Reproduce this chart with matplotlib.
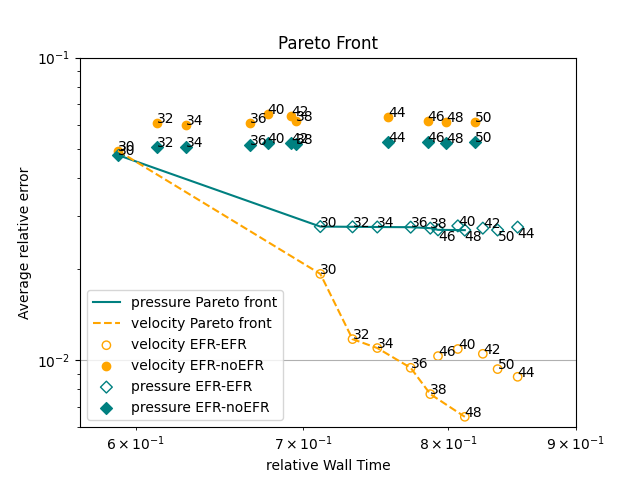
import matplotlib
matplotlib.use("Agg")
from matplotlib import pyplot as plt

# configs (labels) in the order the points were read
configs = [30, 32, 34, 36, 40, 42, 38, 44, 46, 48, 50]
wall_noefr = [0.5903, 0.6118, 0.6285, 0.6663, 0.6776, 0.6924, 0.6953,
              0.7572, 0.7850, 0.7987, 0.8197]
vel_noefr = [0.04920, 0.06077, 0.05999, 0.06077, 0.06525, 0.06426, 0.06152,
             0.06363, 0.06171, 0.06124, 0.06124]
pres_noefr = [0.04761, 0.05073, 0.05069, 0.05151, 0.05218, 0.05218, 0.05179,
              0.05242, 0.05242, 0.05218, 0.05258]

configs_efr = [30, 32, 34, 36, 38, 46, 40, 48, 42, 50, 44]
wall_efr = [0.7112, 0.7326, 0.7495, 0.7729, 0.7870, 0.7926, 0.8072,
            0.8124, 0.8260, 0.8373, 0.8529]
vel_efr = [0.01927, 0.01173, 0.01096, 0.009430, 0.007718, 0.01031, 0.01088,
           0.006494, 0.01049, 0.009337, 0.008805]
pres_efr = [0.02763, 0.02758, 0.02754, 0.02750, 0.02730, 0.02695, 0.02778,
            0.02689, 0.02730, 0.02692, 0.02751]

# labels written under the marker for pressure EFR-EFR
below = [46, 48, 50, 44]


def pareto(xs, ys):
    pts = sorted(zip(xs, ys))
    front_x, front_y = [], []
    best = float("inf")
    for x, y in pts:
        if y < best:
            front_x.append(x)
            front_y.append(y)
            best = y
    return front_x, front_y


fig, ax = plt.subplots(figsize=(6.4, 4.8), dpi=100)

px, py = pareto(wall_noefr + wall_efr, pres_noefr + pres_efr)
vx, vy = pareto(wall_noefr + wall_efr, vel_noefr + vel_efr)
ax.plot(px, py, '-', color='teal', label='pressure Pareto front')
ax.plot(vx, vy, '--', color='orange', label='velocity Pareto front')

ax.scatter(wall_efr, vel_efr, marker='o', facecolors='none',
           edgecolors='orange', label='velocity EFR-EFR')
ax.scatter(wall_noefr, vel_noefr, marker='o', color='orange',
           label='velocity EFR-noEFR')
ax.scatter(wall_efr, pres_efr, marker='D', facecolors='none',
           edgecolors='teal', label='pressure EFR-EFR')
ax.scatter(wall_noefr, pres_noefr, marker='D', color='teal',
           label='pressure EFR-noEFR')

for n, x, y in zip(configs, wall_noefr, vel_noefr):
    ax.text(x, y, str(n))
for n, x, y in zip(configs, wall_noefr, pres_noefr):
    ax.text(x, y, str(n))
for n, x, y in zip(configs_efr, wall_efr, vel_efr):
    ax.text(x, y, str(n))
for n, x, y in zip(configs_efr, wall_efr, pres_efr):
    if n in below:
        ax.text(x, y, str(n), va='top')
    else:
        ax.text(x, y, str(n))

ax.set_xscale('log')
ax.set_yscale('log')
ax.set_xlim(0.57, 0.9)
ax.set_ylim(0.006, 0.1)
ax.grid()
ax.set_title('Pareto Front')
ax.set_xlabel('relative Wall Time')
ax.set_ylabel('Average relative error')
ax.legend(loc='lower left')

fig.savefig('out.png')
